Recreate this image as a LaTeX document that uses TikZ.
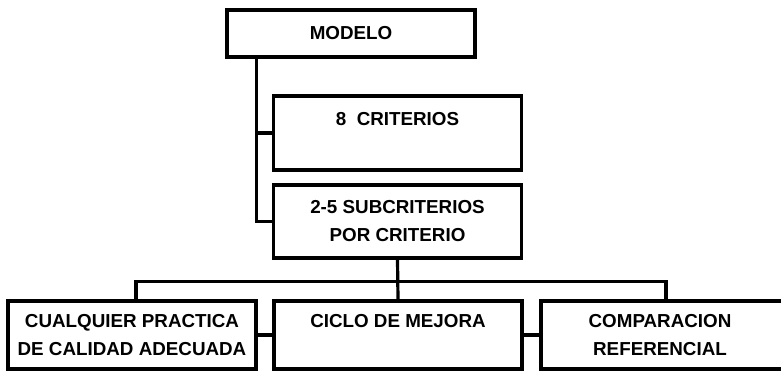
\documentclass[tikz,border=0pt]{standalone}
\usepackage{fontspec}
\setmainfont{Liberation Sans}
\tikzset{
	caja/.style={draw,line width=3.2pt,rectangle,inner sep=0pt,minimum width=248pt,align=center,
		font=\bfseries\fontsize{18.8}{28}\selectfont},
	linea/.style={line width=3.2pt}
}
\begin{document}
\begin{tikzpicture}[x=1pt,y=-1pt]
		\clip (0,0) rectangle (781,371);
		\node[caja,minimum height=47pt] (modelo) at (351,33.5){MODELO};
		\node[caja,minimum height=74pt] (crit) at (397.5,133){8 \ CRITERIOS\\ \phantom{X}};
		\node[caja,minimum height=73pt] (sub) at (397.5,221.5){2-5 SUBCRITERIOS\\POR CRITERIO};
		\node[caja,minimum height=68pt] (left) at (132,335){CUALQUIER PRACTICA\\DE CALIDAD ADECUADA};
		\node[caja,minimum height=68pt] (mid) at (398,335){CICLO DE MEJORA\\ \phantom{X}};
		\node[caja,minimum height=68pt] (right) at (665,335){COMPARACION\hspace*{10pt}\\REFERENCIAL\hspace*{10pt}};
		\coordinate (spine) at ([xshift=31pt]modelo.south west);
		\coordinate (bus) at ([yshift=-22pt]sub.south);
		\draw[linea](spine) |- (sub.west);
		\draw[linea](crit.west) -- (crit.west -| spine);
		\draw[linea](sub.south) -- (mid.north);
		\draw[linea]([xshift=4pt]left.north) |- (bus) -| ([xshift=1pt]right.north);
		\draw[linea](left.east) -- (mid.west);
		\draw[linea](mid.east) -- (right.west);
	\end{tikzpicture}
\end{document}
